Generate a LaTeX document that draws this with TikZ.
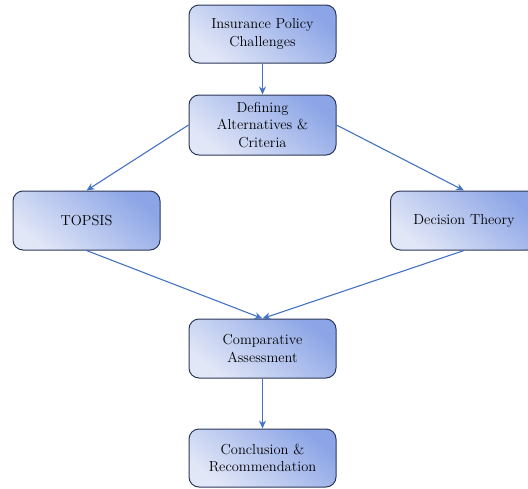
\documentclass[tikz,border=0pt]{standalone}
\usepackage{tikz}
\usetikzlibrary{arrows.meta}
\definecolor{boxdark}{RGB}{140,165,230}
\definecolor{boxlight}{RGB}{226,231,247}
\definecolor{boxline}{RGB}{44,56,88}
\definecolor{arrowblue}{RGB}{68,114,196}
\tikzset{
  stagebox/.style={draw=boxline, line width=1pt, rounded corners=10pt,
    top color=boxdark, bottom color=boxlight, shading angle=-40,
    minimum width=147pt, minimum height=58pt, align=center,
    font=\fontsize{14.5}{17.5}\selectfont, inner sep=2pt},
  flow/.style={draw=arrowblue, line width=1.1pt, -{Stealth[length=8pt,width=7pt]}}
}

\begin{document}
\begin{tikzpicture}[x=1pt,y=-1pt]
\useasboundingbox (0,0) rectangle (528,488);
\node[stagebox] (challenges) at (262.5,34) {Insurance Policy\\Challenges};
\node[stagebox, minimum height=60pt] (criteria) at (262.5,125) {Defining\\Alternatives \&\\Criteria};
\node[stagebox, minimum height=59pt] (topsis) at (86.5,220.5) {TOPSIS};
\node[stagebox, minimum height=59pt] (decision) at (464,220.5) {Decision Theory};
\node[stagebox, minimum height=59pt] (compare) at (262.5,348.5) {Comparative\\Assessment};
\node[stagebox] (conclusion) at (262.5,458) {Conclusion \&\\Recommendation};
\draw[flow] (challenges) -- (criteria);
\draw[flow] (criteria.west) -- (topsis.north);
\draw[flow] (criteria.east) -- (decision.north);
\draw[flow] (topsis.south) -- (compare.north);
\draw[flow] (decision.south) -- (compare.north);
\draw[flow] (compare) -- (conclusion);
\end{tikzpicture}
\end{document}
